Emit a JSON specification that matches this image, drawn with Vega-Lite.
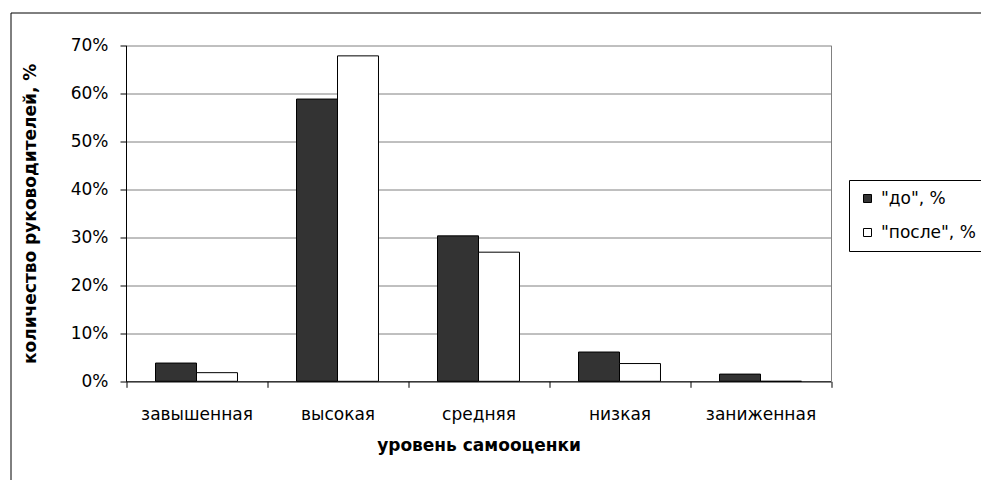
{
  "$schema": "https://vega.github.io/schema/vega-lite/v6.json",
  "width": 971,
  "height": 468,
  "autosize": {"type": "none"},
  "padding": {"left": 10.5, "top": 12.5, "right": -0.5, "bottom": -0.5},
  "background": "white",
  "config": {
    "font": "DejaVu Sans",
    "view": {"stroke": "black", "strokeWidth": 1, "fill": "white"},
    "axis": {"labelColor": "black", "titleColor": "black", "labelFont": "DejaVu Sans", "titleFont": "DejaVu Sans"},
    "legend": {"labelFont": "DejaVu Sans"}
  },
  "data": {
    "values": [
      {"level": "завышенная", "period": "\"до\",  %", "value": 0.038},
      {"level": "завышенная", "period": "\"после\",  %", "value": 0.018},
      {"level": "высокая", "period": "\"до\",  %", "value": 0.588},
      {"level": "высокая", "period": "\"после\",  %", "value": 0.678},
      {"level": "средняя", "period": "\"до\",  %", "value": 0.303},
      {"level": "средняя", "period": "\"после\",  %", "value": 0.269},
      {"level": "низкая", "period": "\"до\",  %", "value": 0.061},
      {"level": "низкая", "period": "\"после\",  %", "value": 0.037},
      {"level": "заниженная", "period": "\"до\",  %", "value": 0.015},
      {"level": "заниженная", "period": "\"после\",  %", "value": 0}
    ]
  },
  "resolve": {"axis": {"y": "independent"}},
  "layer": [
    {
      "mark": {"type": "bar", "stroke": "black", "strokeWidth": 1},
      "encoding": {
        "x": {
          "field": "level",
          "type": "nominal",
          "sort": ["завышенная", "высокая", "средняя", "низкая", "заниженная"],
          "scale": {"range": [115.5, 820.5], "paddingInner": 0, "paddingOuter": 0},
          "axis": {
            "orient": "bottom",
            "offset": -99.2,
            "tickBand": "extent",
            "grid": false,
            "domainColor": "black",
            "tickColor": "black",
            "tickSize": 6,
            "labelAngle": 0,
            "labelPadding": 19,
            "labelFontSize": 17,
            "title": "уровень самооценки",
            "titleFontSize": 17,
            "titleFontWeight": "bold",
            "titlePadding": 15
          }
        },
        "xOffset": {
          "field": "period",
          "type": "nominal",
          "sort": ["\"до\",  %", "\"после\",  %"],
          "scale": {"paddingInner": 0, "paddingOuter": 0.72}
        },
        "y": {
          "field": "value",
          "type": "quantitative",
          "scale": {"domain": [0, 0.7], "nice": false, "range": [368.8, 32.8]},
          "axis": {
            "orient": "left",
            "offset": -115.5,
            "values": [0, 0.1, 0.2, 0.3, 0.4, 0.5, 0.6, 0.7],
            "format": ".0%",
            "grid": true,
            "gridColor": "#808080",
            "gridWidth": 1,
            "domainColor": "black",
            "tickColor": "black",
            "tickSize": 6,
            "labelPadding": 12,
            "labelFontSize": 17,
            "title": "количество руководителей, %",
            "titleFontSize": 17,
            "titleFontWeight": "bold",
            "titlePadding": 31
          }
        },
        "fill": {
          "field": "period",
          "type": "nominal",
          "scale": {"domain": ["\"до\",  %", "\"после\",  %"], "range": ["#333333", "#ffffff"]},
          "legend": {
            "orient": "none",
            "legendX": 838.5,
            "legendY": 167.5,
            "title": null,
            "strokeColor": "black",
            "fillColor": "white",
            "padding": 10,
            "symbolType": "square",
            "symbolSize": 64,
            "symbolStrokeColor": "black",
            "symbolStrokeWidth": 1,
            "labelFontSize": 17,
            "labelColor": "black",
            "labelOffset": 5,
            "rowPadding": 16
          }
        }
      }
    },
    {
      "mark": {"type": "rule", "opacity": 0},
      "encoding": {
        "y": {
          "field": "value",
          "type": "quantitative",
          "axis": {
            "orient": "right",
            "offset": -150.5,
            "grid": false,
            "labels": false,
            "ticks": false,
            "title": null,
            "domainColor": "#808080"
          }
        }
      }
    }
  ]
}
